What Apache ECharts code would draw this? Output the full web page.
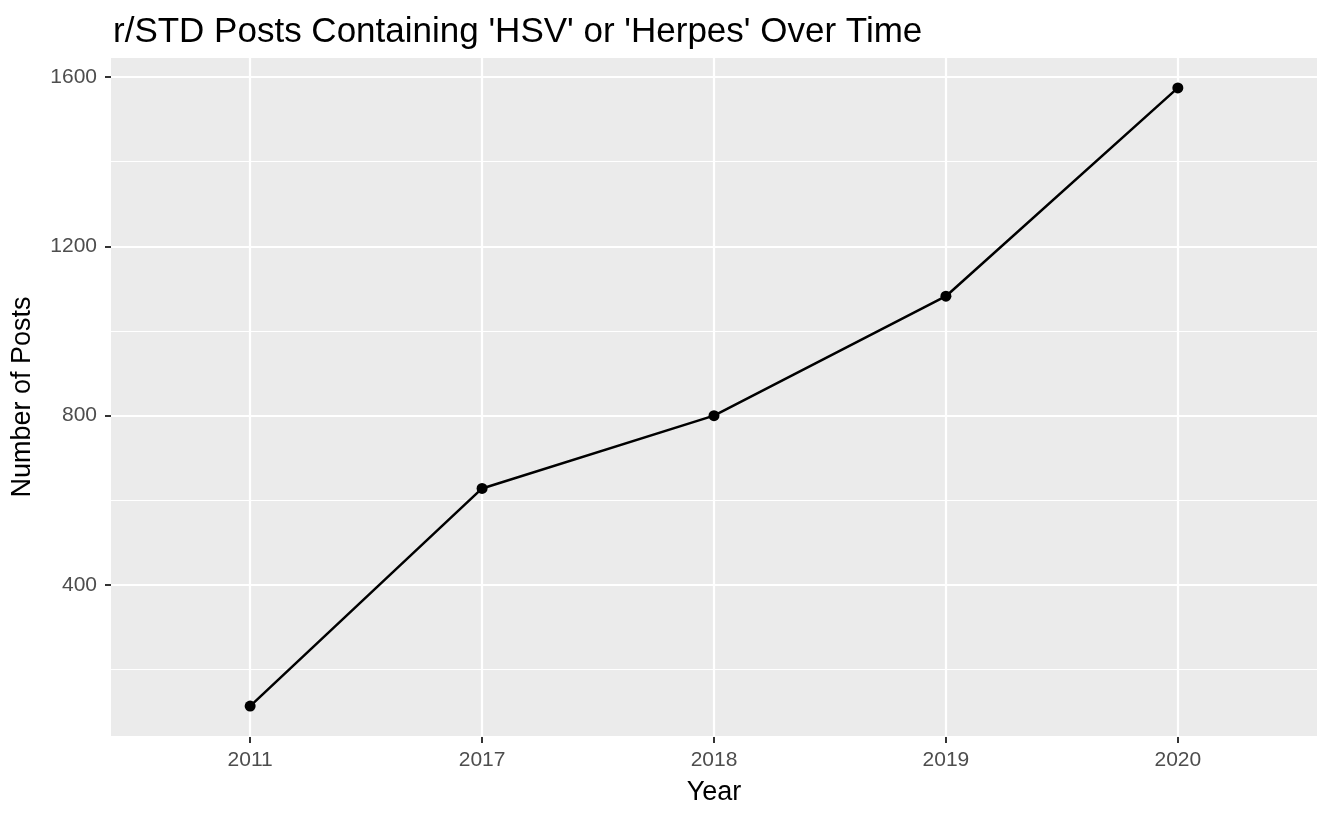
<!DOCTYPE html>
<html>
<head>
<meta charset="utf-8">
<script src="https://cdn.jsdelivr.net/npm/echarts@6/dist/echarts.min.js"></script>
<style>
	html, body { margin: 0; padding: 0; background: #fff; }
	#chart { width: 1328px; height: 818px; }
</style>
</head>
<body>
<div id="chart"></div>
<script>
// data
const years = ['2011', '2017', '2018', '2019', '2020'];
const posts = [114, 628, 800, 1082, 1574];
const yTicks = [400, 800, 1200, 1600];

// ggplot pads a discrete axis by 0.6 of a step on each side,
// so use 5 slots per step and leave 3 empty slots at each end
const PAD = 3, STEP = 5;
const slots = [];
for (let i = 0; i <= PAD * 2 + STEP * (years.length - 1); i++) {
	const k = (i - PAD) / STEP;
	slots.push(Number.isInteger(k) && k >= 0 && k < years.length ? years[k] : '');
}
const seriesData = years.map((y, k) => [PAD + k * STEP, posts[k]]);
const isYear = (index, value) => value !== '';

const font = 'Liberation Sans, Arial, sans-serif';

const myChart = echarts.init(document.getElementById('chart'), null, { renderer: 'canvas' });

const option = {
	animation: false,
	backgroundColor: '#ffffff',
	title: {
		text: "r/STD Posts Containing 'HSV' or 'Herpes' Over Time",
		left: 108,
		top: 10,
		textStyle: { fontFamily: font, fontSize: 35, fontWeight: 'normal', color: '#000' }
	},
	grid: {
		left: 111,
		top: 57,
		width: 1206,
		height: 680,
		show: true,
		backgroundColor: '#EBEBEB',
		borderWidth: 0
	},
	xAxis: {
		type: 'category',
		boundaryGap: false,
		data: slots,
		name: 'Year',
		nameLocation: 'middle',
		nameGap: 42,
		nameTextStyle: { fontFamily: font, fontSize: 27, color: '#000' },
		axisLine: { show: false },
		axisTick: {
			show: true,
			interval: isYear,
			length: 6,
			lineStyle: { color: '#333', width: 2 }
		},
		axisLabel: {
			interval: isYear,
			margin: 13,
			fontFamily: font,
			fontSize: 21,
			color: '#4D4D4D'
		},
		splitLine: {
			show: true,
			interval: isYear,
			lineStyle: { color: '#fff', width: 2.2 }
		}
	},
	yAxis: {
		type: 'value',
		min: posts[0] - 0.05 * (posts[4] - posts[0]),
		max: posts[4] + 0.05 * (posts[4] - posts[0]),
		minInterval: yTicks[1] - yTicks[0],
		maxInterval: yTicks[1] - yTicks[0],
		name: 'Number of Posts',
		nameLocation: 'middle',
		nameGap: 75,
		nameTextStyle: { fontFamily: font, fontSize: 27, color: '#000' },
		axisLine: { show: false },
		axisTick: {
			show: true,
			length: 6,
			lineStyle: { color: '#333', width: 2 }
		},
		axisLabel: {
			margin: 14,
			fontFamily: font,
			fontSize: 21,
			color: '#4D4D4D',
			showMinLabel: false,
			showMaxLabel: false,
			formatter: (v) => String(v)
		},
		splitLine: { show: true, lineStyle: { color: '#fff', width: 2.2 } },
		minorTick: { show: false, splitNumber: 2 },
		minorSplitLine: { show: true, lineStyle: { color: '#fff', width: 1.1 } }
	},
	series: [{
		type: 'line',
		data: seriesData,
		symbol: 'circle',
		symbolSize: 11,
		lineStyle: { color: '#000', width: 2.5 },
		itemStyle: { color: '#000' }
	}]
};

myChart.setOption(option);
</script>
</body>
</html>
